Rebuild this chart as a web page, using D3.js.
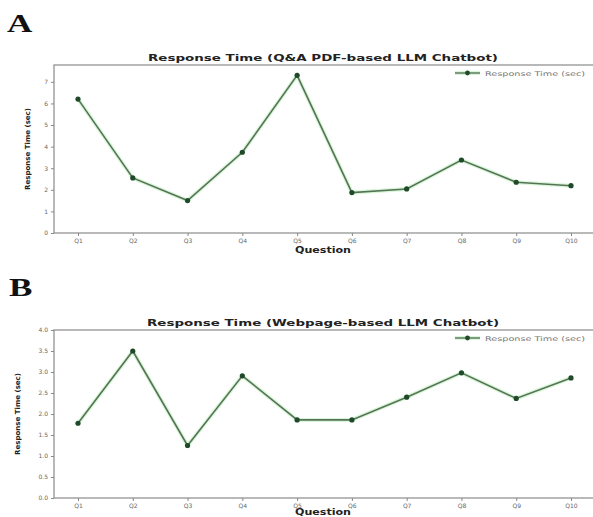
<!DOCTYPE html>
<html lang="en">
  <head>
    <meta charset="utf-8">
    <title>Response Time</title>
    <script src="https://cdn.jsdelivr.net/npm/d3@7"></script>
    <style>
      body { margin: 0; background: #fff; }
      svg { display: block; }
      .tick text { fill: #666; font-family: "DejaVu Sans", sans-serif; font-size: 6px; }
      .tick line { stroke: #888; }
      .domain { display: none; }
    </style>
  </head>
  <body>
    <script type="text/javascript">
      var w = 593;
      var h = 517;

      // data
      var questions = ["Q1","Q2","Q3","Q4","Q5","Q6","Q7","Q8","Q9","Q10"];
      var pdfTimes = [6.2, 2.55, 1.5, 3.74, 7.3, 1.87, 2.04, 3.38, 2.35, 2.19];
      var webTimes = [1.78, 3.5, 1.25, 2.91, 1.86, 1.86, 2.4, 2.98, 2.37, 2.86];
      var pdfTicks = [0, 1, 2, 3, 4, 5, 6, 7];
      var webTicks = [0, 0.5, 1, 1.5, 2, 2.5, 3, 3.5, 4];
      var seriesName = "Response Time (sec)";

      var svg = d3.select("body")
        .append("svg")
        .attr("width", w)
        .attr("height", h);

      var left = 54, right = 598;
      var xScale = d3.scalePoint()
          .domain(questions)
          .range([78, 571]);

      function drawPanel(p) {
        var yScale = d3.scaleLinear()
            .domain(p.domain)
            .range([p.bottom, p.top]);

        // panel letter
        svg.append("text")
          .attr("transform", "translate(" + p.letterX + "," + p.letterY + ") scale(1.35,1)")
          .attr("font-family", "Liberation Serif, serif")
          .attr("font-weight", "bold")
          .attr("font-size", 26)
          .attr("fill", "#111")
          .text(p.letter);

        // frame
        svg.append("rect")
          .attr("x", left)
          .attr("y", p.top)
          .attr("width", right - left)
          .attr("height", p.bottom - p.top)
          .attr("fill", "none")
          .attr("stroke", "#8a8a8a")
          .attr("stroke-width", 1.2);

        var yAxis = d3.axisLeft(yScale)
            .tickValues(p.ticks)
            .tickSize(3)
            .tickPadding(3)
            .tickFormat(p.format);
        svg.append("g")
          .attr("transform", "translate(" + left + ",0)")
          .call(yAxis);

        var xAxis = d3.axisBottom(xScale)
            .tickSize(3)
            .tickPadding(3);
        svg.append("g")
          .attr("transform", "translate(0," + p.bottom + ")")
          .call(xAxis);

        // title
        svg.append("text")
          .attr("x", 323)
          .attr("y", p.top - 4)
          .attr("text-anchor", "middle")
          .attr("font-family", "DejaVu Sans, sans-serif")
          .attr("font-weight", "bold")
          .attr("font-size", 8)
          .attr("fill", "#222")
          .attr("textLength", p.titleLen)
          .attr("lengthAdjust", "spacingAndGlyphs")
          .text(p.title);

        // axis labels
        svg.append("text")
          .attr("x", 323)
          .attr("y", p.bottom + p.xlabDy)
          .attr("text-anchor", "middle")
          .attr("font-family", "DejaVu Sans, sans-serif")
          .attr("font-weight", "bold")
          .attr("font-size", 8)
          .attr("fill", "#222")
          .attr("textLength", 56)
          .attr("lengthAdjust", "spacingAndGlyphs")
          .text("Question");

        svg.append("text")
          .attr("transform", "translate(" + p.ylabX + "," + ((p.top + p.bottom) / 2) + ") rotate(-90)")
          .attr("text-anchor", "middle")
          .attr("font-family", "DejaVu Sans, sans-serif")
          .attr("font-weight", "bold")
          .attr("font-size", 7)
          .attr("fill", "#222")
          .attr("textLength", 82)
          .attr("lengthAdjust", "spacingAndGlyphs")
          .text(seriesName);

        var line = d3.line()
            .x(function(d, i) { return xScale(questions[i]); })
            .y(function(d) { return yScale(d); });

        // soft green halo, then the line itself
        svg.append("path")
          .datum(p.values)
          .attr("d", line)
          .attr("fill", "none")
          .attr("stroke", "#a8eea8")
          .attr("stroke-opacity", 0.45)
          .attr("stroke-width", 4);
        svg.append("path")
          .datum(p.values)
          .attr("d", line)
          .attr("fill", "none")
          .attr("stroke", "#587258")
          .attr("stroke-width", 1.6);

        svg.selectAll(null)
          .data(p.values)
          .enter()
          .append("circle")
          .attr("cx", function(d, i) { return xScale(questions[i]); })
          .attr("cy", function(d) { return yScale(d); })
          .attr("r", 2.6)
          .attr("fill", "#1f4a2a");

        // legend
        var ly = p.top + 8;
        svg.append("line")
          .attr("x1", 455).attr("x2", 480)
          .attr("y1", ly).attr("y2", ly)
          .attr("stroke", "#a8eea8")
          .attr("stroke-width", 4)
          .attr("stroke-opacity", 0.45);
        svg.append("line")
          .attr("x1", 455).attr("x2", 480)
          .attr("y1", ly).attr("y2", ly)
          .attr("stroke", "#587258")
          .attr("stroke-width", 1.4);
        svg.append("circle")
          .attr("cx", 467.5).attr("cy", ly)
          .attr("r", 2.4)
          .attr("fill", "#1f4a2a");
        svg.append("text")
          .attr("x", 485)
          .attr("y", ly + 2.5)
          .attr("font-family", "DejaVu Sans, sans-serif")
          .attr("font-size", 6.5)
          .attr("fill", "#777")
          .attr("textLength", 100)
          .attr("lengthAdjust", "spacingAndGlyphs")
          .text(seriesName);
      }

      drawPanel({
        letter: "A", letterX: 7, letterY: 32,
        title: "Response Time (Q&A PDF-based LLM Chatbot)", titleLen: 350,
        values: pdfTimes, ticks: pdfTicks, format: d3.format("d"),
        domain: [0, 7.78], top: 65, bottom: 233, ylabX: 30, xlabDy: 20
      });

      drawPanel({
        letter: "B", letterX: 9, letterY: 296,
        title: "Response Time (Webpage-based LLM Chatbot)", titleLen: 352,
        values: webTimes, ticks: webTicks, format: d3.format(".1f"),
        domain: [0, 4], top: 330, bottom: 498, ylabX: 20, xlabDy: 17
      });
    </script>
  </body>
</html>
